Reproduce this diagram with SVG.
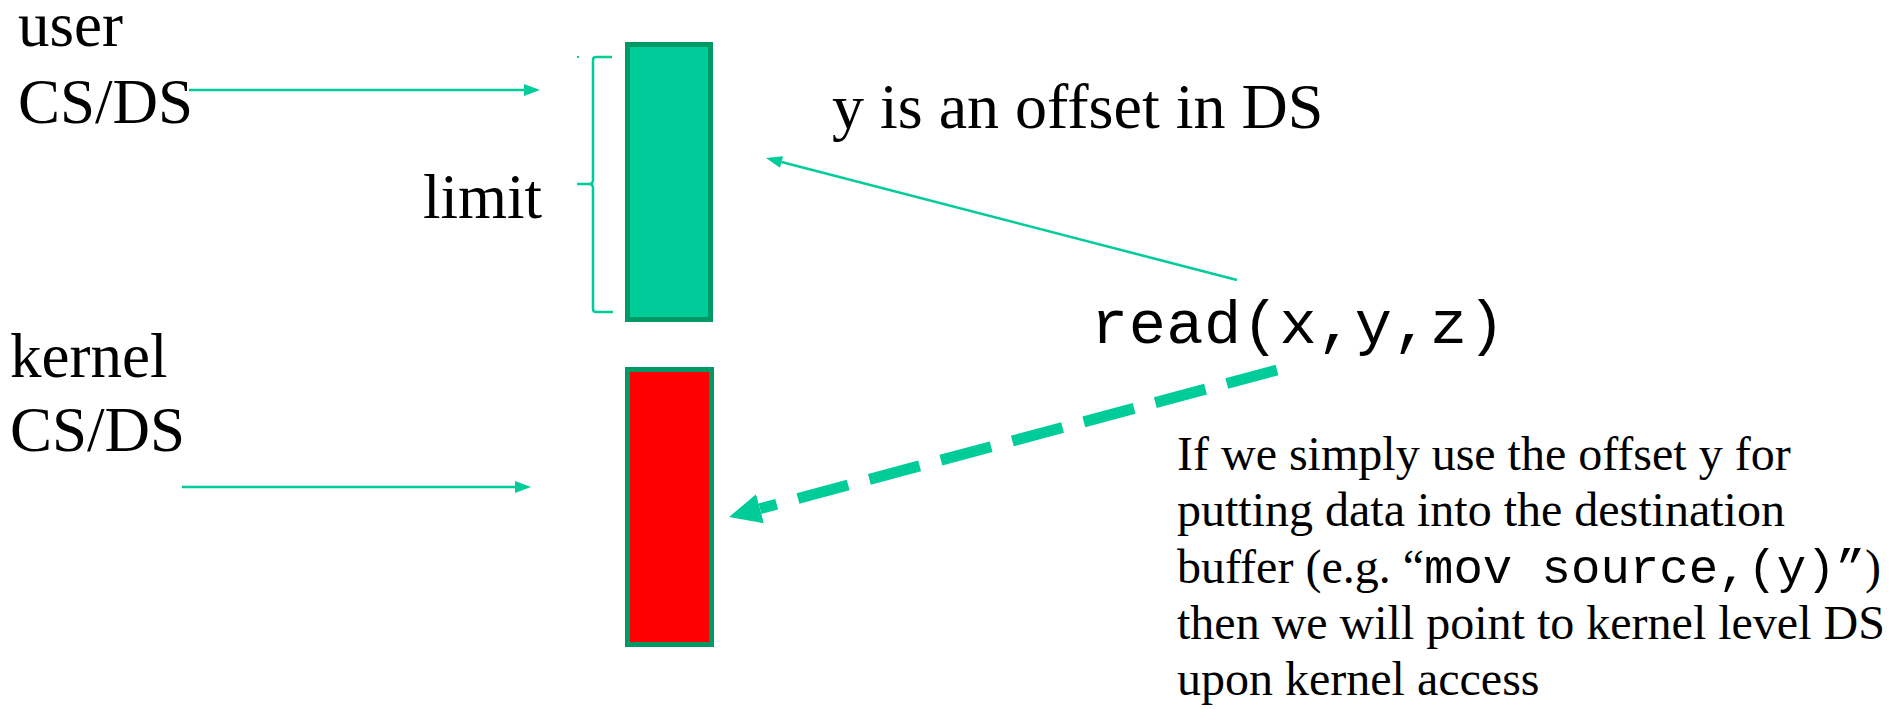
<svg xmlns="http://www.w3.org/2000/svg" width="1892" height="709" viewBox="0 0 1892 709">
<style>
.serif{font-family:"Liberation Serif","Times New Roman",serif;fill:#000}
.big{font-size:63px}
.para{font-size:48px}
.mono{font-family:"Liberation Mono","DejaVu Sans Mono",monospace}
.thin{stroke:#00CC99;stroke-width:2.5;fill:none}
.dash{stroke:#00CC99;stroke-width:11;fill:none;stroke-dasharray:52 22}
.bracket{stroke:#00CC99;stroke-width:2.5;fill:none}
</style>
<defs>
<marker id="ah" markerUnits="userSpaceOnUse" markerWidth="20" markerHeight="16" viewBox="0 -8 18 16" refX="0" refY="0" orient="auto">
<path d="M0,-6 L16,0 L0,6 Z" fill="#00CC99"/>
</marker>
<marker id="ahBig" markerUnits="userSpaceOnUse" markerWidth="36" markerHeight="34" viewBox="0 -17 36 34" refX="0" refY="0" orient="auto">
<path d="M0,-15 L32,0 L0,15 Z" fill="#00CC99"/>
</marker>
</defs>
<rect width="1892" height="709" fill="#fff"/>
<g id="user-segment">
<rect x="627.5" y="44.5" width="83" height="275" fill="#00CC99" stroke="#009966" stroke-width="5"/>
</g>
<g id="kernel-segment">
<rect x="627.5" y="369.5" width="84" height="275" fill="#FF0000" stroke="#009966" stroke-width="5"/>
</g>
<g id="limit-bracket">
<path class="bracket" d="M612,57 H596 Q593,57 593,60 V180 Q593,184 589,184 H577 M589,184 Q593,184 593,188 V309 Q593,312 596,312 H613"/>
<rect x="577" y="56" width="2" height="2" fill="#00CC99"/>
<text class="serif big" x="423" y="218">limit</text>
</g>
<g id="user-label">
<text class="serif big" x="18" y="46">user</text>
<text class="serif big" x="18" y="123">CS/DS</text>
</g>
<g id="kernel-label">
<text class="serif big" x="10" y="377">kernel</text>
<text class="serif big" x="10" y="451">CS/DS</text>
</g>
<g id="offset-label">
<text class="serif" font-size="64" x="832" y="128">y is an offset in DS</text>
</g>
<g id="read-call">
<text class="mono" font-size="62" x="1091" y="343" textLength="414" lengthAdjust="spacing">read(x,y,z)</text>
</g>
<g id="note">
<text class="serif para" x="1177" y="470">If we simply use the offset y for</text>
<text class="serif para" x="1177" y="526">putting data into the destination</text>
<text class="serif para" x="1177" y="583">buffer (e.g. “<tspan class="mono" font-size="49">mov source,(y)”</tspan>)</text>
<text class="serif para" x="1177" y="639">then we will point to kernel level DS</text>
<text class="serif para" x="1177" y="695">upon kernel access</text>
</g>
<g id="connectors">
<line class="thin" x1="189" y1="90" x2="524" y2="90" marker-end="url(#ah)"/>
<line class="thin" x1="182" y1="487" x2="515" y2="487" marker-end="url(#ah)"/>
<line class="thin" x1="1237" y1="280" x2="781.5" y2="162" marker-end="url(#ah)"/>
<line class="dash" x1="1277" y1="370" x2="760" y2="508.7" marker-end="url(#ahBig)"/>
</g>
</svg>
